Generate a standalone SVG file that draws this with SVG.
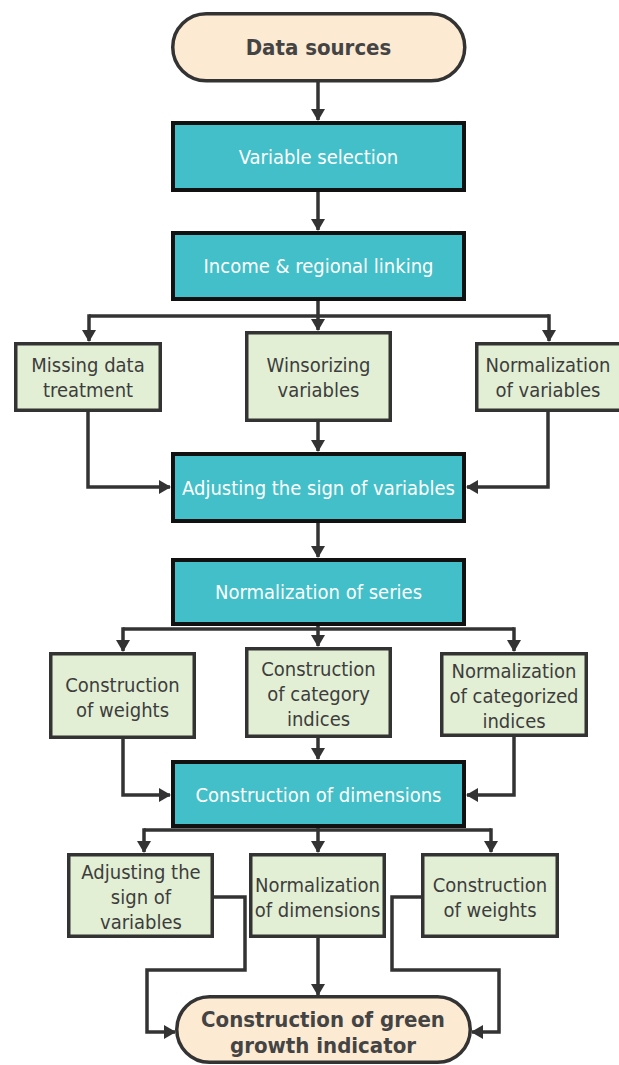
<svg xmlns="http://www.w3.org/2000/svg" width="619" height="1065" viewBox="0 0 619 1065">
<defs>
<style>
.pill{fill:#FDEAD2;stroke:#333;stroke-width:3.5}
.teal{fill:#42BFC8;stroke:#111;stroke-width:4}
.green{fill:#E2EFD4;stroke:#333;stroke-width:3.5}
.w{font-family:"DejaVu Sans Condensed","DejaVu Sans",sans-serif;font-size:20px;fill:#fff;text-anchor:middle}
.d{font-family:"DejaVu Sans Condensed","DejaVu Sans",sans-serif;font-size:20px;fill:#3d3d3d;text-anchor:middle}
.b{font-family:"DejaVu Sans Condensed","DejaVu Sans",sans-serif;font-size:22px;font-weight:bold;fill:#444;text-anchor:middle}
.c{fill:none;stroke:#333;stroke-width:3.5}
</style>
<marker id="ah" viewBox="0 0 12 14" refX="11" refY="7" markerWidth="12" markerHeight="14" markerUnits="userSpaceOnUse" orient="auto">
<path d="M0,0 L12,7 L0,14 z" fill="#333"/>
</marker>
</defs>
<g id="connectors">
<path class="c" d="M318,82 V120" marker-end="url(#ah)"/>
<path class="c" d="M318,192 V230" marker-end="url(#ah)"/>
<path class="c" d="M318,301 V330" marker-end="url(#ah)"/>
<path class="c" d="M89,316 H549"/>
<path class="c" d="M89,314.25 V341" marker-end="url(#ah)"/>
<path class="c" d="M549,314.25 V341" marker-end="url(#ah)"/>
<path class="c" d="M88,412 V487 H170" marker-end="url(#ah)"/>
<path class="c" d="M318,422 V451" marker-end="url(#ah)"/>
<path class="c" d="M548,412 V487 H467" marker-end="url(#ah)"/>
<path class="c" d="M318,523 V557" marker-end="url(#ah)"/>
<path class="c" d="M318,626 V646" marker-end="url(#ah)"/>
<path class="c" d="M123,629 H514"/>
<path class="c" d="M123,627.25 V651" marker-end="url(#ah)"/>
<path class="c" d="M514,627.25 V651" marker-end="url(#ah)"/>
<path class="c" d="M123,739 V795 H170" marker-end="url(#ah)"/>
<path class="c" d="M318,738 V759" marker-end="url(#ah)"/>
<path class="c" d="M514,737 V795 H467" marker-end="url(#ah)"/>
<path class="c" d="M318,828 V852" marker-end="url(#ah)"/>
<path class="c" d="M144,830 H491"/>
<path class="c" d="M144,828.25 V852" marker-end="url(#ah)"/>
<path class="c" d="M491,828.25 V852" marker-end="url(#ah)"/>
<path class="c" d="M214,897 H245 V970 H147 V1032 H175" marker-end="url(#ah)"/>
<path class="c" d="M318,938 V995" marker-end="url(#ah)"/>
<path class="c" d="M421,897 H392 V970 H499 V1032 H472" marker-end="url(#ah)"/>
</g>
<g id="data-sources">
<rect class="pill" x="172.75" y="13.75" width="292" height="67" rx="33.5"/>
<text class="b" x="318.5" y="55">Data sources</text>
</g>
<g id="variable-selection">
<rect class="teal" x="173" y="123" width="291" height="67"/>
<text class="w" x="318.5" y="164">Variable selection</text>
</g>
<g id="income-linking">
<rect class="teal" x="173" y="233" width="291" height="66"/>
<text class="w" x="318.5" y="273">Income &amp; regional linking</text>
</g>
<g id="missing-data">
<rect class="green" x="15.75" y="343.75" width="144.5" height="66.5"/>
<text class="d" x="88" y="372">Missing data</text>
<text class="d" x="88" y="397">treatment</text>
</g>
<g id="winsorizing">
<rect class="green" x="246.75" y="332.75" width="143.5" height="87.5"/>
<text class="d" x="318.5" y="372">Winsorizing</text>
<text class="d" x="318.5" y="397">variables</text>
</g>
<g id="normalization-variables">
<rect class="green" x="476.75" y="343.75" width="148" height="66.5"/>
<text class="d" x="548" y="372">Normalization</text>
<text class="d" x="548" y="397">of variables</text>
</g>
<g id="adjusting-sign">
<rect class="teal" x="173" y="454" width="291" height="67"/>
<text class="w" x="318.5" y="495">Adjusting the sign of variables</text>
</g>
<g id="normalization-series">
<rect class="teal" x="173" y="560" width="291" height="64"/>
<text class="w" x="318.5" y="599">Normalization of series</text>
</g>
<g id="construction-weights-1">
<rect class="green" x="50.75" y="653.75" width="143.5" height="83.5"/>
<text class="d" x="122.5" y="692">Construction</text>
<text class="d" x="122.5" y="717">of weights</text>
</g>
<g id="category-indices">
<rect class="green" x="246.75" y="648.75" width="143.5" height="87.5"/>
<text class="d" x="318.5" y="676">Construction</text>
<text class="d" x="318.5" y="701">of category</text>
<text class="d" x="318.5" y="726">indices</text>
</g>
<g id="normalization-categorized">
<rect class="green" x="441.75" y="653.75" width="144.5" height="81.5"/>
<text class="d" x="514" y="678">Normalization</text>
<text class="d" x="514" y="703">of categorized</text>
<text class="d" x="514" y="728">indices</text>
</g>
<g id="construction-dimensions">
<rect class="teal" x="173" y="762" width="291" height="64"/>
<text class="w" x="318.5" y="802">Construction of dimensions</text>
</g>
<g id="adjusting-sign-2">
<rect class="green" x="68.75" y="854.75" width="143.5" height="81.5"/>
<text class="d" x="141" y="879">Adjusting the</text>
<text class="d" x="141" y="904">sign of</text>
<text class="d" x="141" y="929">variables</text>
</g>
<g id="normalization-dimensions">
<rect class="green" x="250.75" y="854.75" width="133.5" height="81.5"/>
<text class="d" x="317.5" y="892">Normalization</text>
<text class="d" x="317.5" y="917">of dimensions</text>
</g>
<g id="construction-weights-2">
<rect class="green" x="422.75" y="854.75" width="134.5" height="81.5"/>
<text class="d" x="490" y="892">Construction</text>
<text class="d" x="490" y="917">of weights</text>
</g>
<g id="green-growth">
<rect class="pill" x="176.75" y="996.75" width="293.5" height="65.5" rx="32.75"/>
<text class="b" x="323" y="1027">Construction of green</text>
<text class="b" x="323" y="1053">growth indicator</text>
</g>
</svg>
